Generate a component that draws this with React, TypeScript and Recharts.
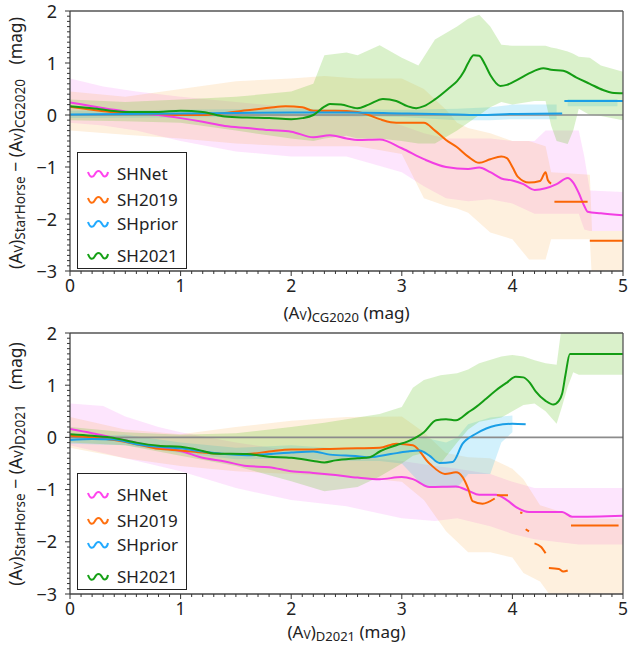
import React from 'react';
import { ComposedChart, Line, Area, XAxis, YAxis, ReferenceLine, Legend } from 'recharts';

type Pt = [number, number | null];
type Bd = [number, number | null, number | null];

const SERIES = ['SHNet', 'SH2019', 'SHprior', 'SH2021'];
const LINE_COLORS = ['#f23ee4', '#fa6605', '#1a9ee6', '#149d14'];
const LEGEND_COLORS = ['#ff44ee', '#ff7010', '#22aaff', '#16a016'];
const BAND_COLORS = ['#f060f0', '#fa9a20', '#30c0f0', '#6cc830'];
const BAND_OPACITY = [0.16, 0.15, 0.22, 0.25];

const X_MAJOR = [0, 1, 2, 3, 4, 5];
const Y_MAJOR = [-3, -2, -1, 0, 1, 2];
const X_TICKS = Array.from({ length: 51 }, (_, i) => i / 10);
const Y_TICKS = Array.from({ length: 51 }, (_, i) => (i - 30) / 10);

// ---------- Top panel: (A_V)_CG2020 ----------
const cgShNet: Pt[] = [
  [0, 0.24], [0.2, 0.17], [0.4, 0.1], [0.6, 0.04], [0.8, 0.0], [1.0, -0.06], [1.2, -0.13], [1.4, -0.21],
  [1.6, -0.25], [1.8, -0.29], [2.0, -0.32], [2.2, -0.43], [2.35, -0.39], [2.5, -0.45], [2.6, -0.48],
  [2.8, -0.47], [3.0, -0.64], [3.2, -0.85], [3.4, -1.0], [3.6, -1.04], [3.7, -1.01], [3.8, -1.1],
  [3.9, -1.22], [4.0, -1.26], [4.1, -1.33], [4.2, -1.44], [4.3, -1.41], [4.4, -1.33], [4.5, -1.21],
  [4.55, -1.3], [4.6, -1.5], [4.65, -1.75], [4.68, -1.86], [4.8, -1.89], [5.0, -1.93],
];
const cgSh2019: Pt[] = [
  [0, 0.16], [0.2, 0.1], [0.4, 0.05], [0.6, 0.03], [0.8, 0.02], [1.0, 0.0], [1.2, 0.0], [1.4, 0.04],
  [1.6, 0.09], [1.8, 0.14], [1.95, 0.17], [2.1, 0.15], [2.2, 0.08], [2.4, 0.08], [2.6, 0.06], [2.7, 0.0],
  [2.8, -0.08], [2.9, -0.14], [3.0, -0.15], [3.2, -0.15], [3.3, -0.3], [3.4, -0.48], [3.5, -0.62],
  [3.6, -0.8], [3.7, -0.92], [3.8, -0.85], [3.9, -0.8], [3.95, -0.83], [4.0, -1.0], [4.05, -1.19],
  [4.15, -1.3], [4.25, -1.27], [4.3, -1.1], [4.32, -1.25], [4.35, -1.32], [4.36, null],
  [4.38, -1.67], [4.68, -1.67], [4.69, null], [4.7, -2.42], [5.0, -2.42],
];
const cgShPrior: Pt[] = [
  [0, 0.01], [0.5, 0.02], [1.0, 0.03], [1.5, 0.04], [2.0, 0.05], [2.5, 0.05], [3.0, 0.03], [3.5, 0.01],
  [3.7, 0.0], [4.0, 0.02], [4.45, 0.03], [4.46, null], [4.47, 0.27], [5.0, 0.27],
];
const cgSh2021: Pt[] = [
  [0, 0.17], [0.2, 0.13], [0.5, 0.06], [0.8, 0.06], [1.0, 0.08], [1.2, 0.06], [1.4, -0.03], [1.6, -0.05],
  [1.8, -0.06], [2.0, -0.08], [2.1, -0.06], [2.2, 0.0], [2.3, 0.16], [2.35, 0.21], [2.45, 0.2],
  [2.6, 0.13], [2.7, 0.2], [2.83, 0.31], [2.95, 0.27], [3.05, 0.17], [3.13, 0.13], [3.2, 0.17],
  [3.3, 0.3], [3.44, 0.54], [3.5, 0.65], [3.56, 0.83], [3.6, 1.0], [3.65, 1.15], [3.7, 1.14],
  [3.75, 0.98], [3.8, 0.77], [3.89, 0.56], [3.95, 0.58], [4.04, 0.67], [4.15, 0.8], [4.28, 0.9],
  [4.35, 0.87], [4.46, 0.85], [4.58, 0.72], [4.7, 0.6], [4.82, 0.48], [4.9, 0.43], [5.0, 0.42],
];
const cgShNetBand: Bd[] = [
  [0, -0.15, 0.7], [0.3, -0.2, 0.55], [0.6, -0.3, 0.45], [1.0, -0.5, 0.35], [1.5, -0.7, 0.25],
  [2.0, -0.8, 0.15], [2.5, -0.8, 0.05], [3.0, -1.1, -0.2], [3.2, -1.37, -0.35], [3.4, -1.6, -0.45],
  [3.6, -1.66, -0.45], [3.8, -1.62, -0.45], [4.0, -1.7, -0.5], [4.2, -1.9, -0.5], [4.3, -1.9, -0.3],
  [4.6, -1.9, -0.3], [4.65, -2.2, -0.8], [4.7, -2.23, -1.45], [5.0, -2.23, -1.48],
];
const cgSh2019Band: Bd[] = [
  [0, -0.3, 0.45], [0.5, -0.38, 0.35], [1.0, -0.45, 0.5], [1.5, -0.55, 0.65], [2.0, -0.6, 0.7],
  [2.3, -0.6, 0.75], [2.6, -0.6, 0.7], [3.0, -0.75, 0.7], [3.2, -1.6, 0.5], [3.4, -1.75, 0.1],
  [3.5, -1.8, -0.15], [3.6, -1.88, -0.25], [3.8, -2.26, -0.35], [4.0, -2.39, -0.5], [4.15, -2.78, -0.5],
  [4.3, -2.78, -0.6], [4.35, -2.39, -1.1], [4.7, -2.39, -1.15], [4.72, -3.2, -2.23], [5.0, -3.2, -2.23],
];
const cgShPriorBand: Bd[] = [
  [0, -0.06, 0.08], [1.0, -0.05, 0.1], [2.0, -0.02, 0.12], [3.0, -0.04, 0.1], [3.5, -0.1, 0.12],
  [3.8, -0.1, 0.15], [4.0, -0.08, 0.2], [4.4, -0.08, 0.2], [4.45, null, null],
  [4.5, 0.17, 0.31], [4.95, 0.17, 0.31],
];
const cgSh2021Band: Bd[] = [
  [0, -0.1, 0.3], [0.5, -0.12, 0.25], [1.0, -0.15, 0.3], [1.5, -0.3, 0.35], [2.0, -0.45, 0.45],
  [2.2, -0.5, 0.6], [2.3, -0.45, 1.15], [2.5, -0.4, 1.2], [2.6, -0.45, 1.15], [2.8, -0.45, 1.34],
  [3.0, -0.5, 1.1], [3.15, -0.55, 0.95], [3.3, -0.55, 1.45], [3.5, -0.3, 1.7], [3.6, -0.15, 1.85],
  [3.7, 0.0, 1.93], [3.8, 0.15, 1.7], [3.9, 0.25, 1.35], [4.0, 0.2, 1.33], [4.2, 0.27, 1.33],
  [4.3, 0.27, 1.33], [4.35, -0.2, 1.3], [4.4, -0.5, 1.28], [4.5, -0.56, 1.22], [4.55, -0.3, 1.18],
  [4.6, 0.12, 1.12], [4.7, 0.0, 1.1], [4.8, -0.02, 0.95], [5.0, -0.1, 0.83],
];

// ---------- Bottom panel: (A_V)_D2021 ----------
const dShNet: Pt[] = [
  [0, 0.16], [0.2, 0.08], [0.4, -0.01], [0.6, -0.1], [0.8, -0.19], [1.0, -0.26], [1.2, -0.39],
  [1.4, -0.46], [1.6, -0.55], [1.8, -0.57], [2.0, -0.65], [2.2, -0.68], [2.4, -0.72], [2.6, -0.77],
  [2.8, -0.8], [3.0, -0.76], [3.1, -0.8], [3.25, -0.95], [3.49, -0.94], [3.6, -1.02], [3.7, -1.1],
  [3.85, -1.1], [3.95, -1.2], [4.03, -1.33], [4.15, -1.43], [4.45, -1.43], [4.54, -1.52], [5.0, -1.5],
];
const dSh2019: Pt[] = [
  [0, 0.03], [0.2, 0.0], [0.4, -0.05], [0.6, -0.13], [0.8, -0.22], [1.0, -0.25], [1.2, -0.29],
  [1.4, -0.32], [1.6, -0.32], [1.8, -0.27], [2.0, -0.23], [2.2, -0.23], [2.35, -0.22], [2.6, -0.21],
  [2.8, -0.2], [2.95, -0.12], [3.1, -0.15], [3.25, -0.5], [3.39, -0.7], [3.49, -0.67], [3.55, -0.76],
  [3.6, -0.98], [3.64, -1.22], [3.73, -1.27], [3.84, -1.17], [3.85, null], [3.86, -1.11], [3.96, -1.11],
  [3.97, null], [4.07, -1.44], [4.09, -1.45], [4.1, null], [4.12, -1.76], [4.15, -1.8], [4.16, null],
  [4.2, -2.03], [4.26, -2.1], [4.3, -2.22], [4.31, null], [4.33, -2.5], [4.42, -2.52], [4.46, -2.57],
  [4.5, -2.55], [4.51, null], [4.53, -1.69], [4.96, -1.69],
];
const dShPrior: Pt[] = [
  [0, -0.05], [0.2, -0.03], [0.4, -0.04], [0.6, -0.13], [0.8, -0.18], [1.0, -0.21], [1.2, -0.27],
  [1.4, -0.32], [1.6, -0.34], [1.8, -0.32], [2.0, -0.29], [2.2, -0.27], [2.35, -0.33], [2.6, -0.36],
  [2.71, -0.38], [2.9, -0.32], [3.05, -0.27], [3.16, -0.25], [3.25, -0.35], [3.34, -0.49],
  [3.46, -0.47], [3.55, -0.12], [3.67, 0.07], [3.85, 0.23], [4.0, 0.26], [4.12, 0.25],
];
const dSh2021: Pt[] = [
  [0, 0.06], [0.2, 0.03], [0.4, -0.01], [0.6, -0.1], [0.8, -0.16], [1.0, -0.18], [1.2, -0.26],
  [1.3, -0.31], [1.6, -0.32], [1.8, -0.37], [2.0, -0.39], [2.2, -0.45], [2.3, -0.48], [2.4, -0.44],
  [2.6, -0.4], [2.71, -0.38], [2.8, -0.27], [2.95, -0.15], [3.05, -0.08], [3.13, 0.0], [3.2, 0.1],
  [3.31, 0.33], [3.4, 0.35], [3.49, 0.33], [3.6, 0.48], [3.67, 0.58], [3.75, 0.72], [3.85, 0.9],
  [3.95, 1.05], [4.03, 1.16], [4.1, 1.15], [4.16, 1.04], [4.21, 0.88], [4.3, 0.7], [4.37, 0.63],
  [4.42, 0.7], [4.45, 0.84], [4.48, 1.2], [4.52, 1.6], [5.0, 1.6],
];
const dShNetBand: Bd[] = [
  [0, -0.15, 0.65], [0.3, -0.3, 0.6], [0.5, -0.4, 0.4], [0.8, -0.55, 0.2], [1.0, -0.65, 0.1],
  [1.5, -0.97, -0.1], [2.0, -1.2, -0.25], [2.5, -1.32, -0.35], [3.0, -1.55, -0.45], [3.3, -1.6, -0.55],
  [3.5, -1.55, -0.6], [3.8, -1.7, -0.7], [4.0, -1.85, -0.85], [4.2, -1.95, -0.97], [4.6, -2.05, -0.97],
  [5.0, -2.05, -0.97],
];
const dSh2019Band: Bd[] = [
  [0, -0.2, 0.39], [0.5, -0.4, 0.15], [1.0, -0.55, 0.06], [1.5, -0.65, 0.2], [2.0, -0.7, 0.32],
  [2.5, -0.75, 0.39], [3.0, -0.85, 0.4], [3.2, -1.2, 0.1], [3.4, -1.8, -0.3], [3.6, -2.2, -0.38],
  [3.8, -2.2, -0.4], [4.0, -2.3, -0.6], [4.1, -2.6, -0.8], [4.25, -2.76, -1.3], [4.4, -3.2, -1.4],
  [4.5, -3.2, -1.45], [4.55, -3.2, -1.56], [5.0, -3.2, -1.56],
];
const dShPriorBand: Bd[] = [
  [0, -0.12, 0.02], [0.5, -0.15, 0.05], [1.0, -0.3, -0.1], [1.5, -0.42, -0.2], [2.0, -0.4, -0.15],
  [2.5, -0.45, -0.22], [2.8, -0.45, -0.2], [3.0, -0.5, -0.1], [3.2, -0.95, 0.0], [3.4, -0.97, -0.1],
  [3.5, -0.97, 0.0], [3.6, -0.7, 0.25], [3.8, -0.7, 0.38], [3.9, -0.1, 0.4], [4.0, 0.1, 0.42],
];
const dSh2021Band: Bd[] = [
  [0, -0.1, 0.2], [0.5, -0.15, 0.1], [1.0, -0.35, 0.05], [1.5, -0.55, 0.08], [2.0, -0.84, 0.2],
  [2.3, -1.03, 0.28], [2.6, -0.95, 0.38], [2.8, -0.75, 0.45], [3.0, -0.5, 0.58], [3.1, -0.35, 0.95],
  [3.2, -0.3, 1.1], [3.35, -0.5, 1.19], [3.5, -0.1, 1.23], [3.6, 0.15, 1.3], [3.7, 0.3, 1.42],
  [3.9, 0.38, 1.55], [4.0, 0.5, 1.58], [4.1, 0.62, 1.55], [4.2, 0.65, 1.48], [4.3, 0.5, 1.42],
  [4.4, 0.26, 1.39], [4.45, 0.6, 2.2], [4.5, 0.97, 2.2], [4.55, 1.25, 2.2], [4.6, 1.2, 2.2],
  [5.0, 1.2, 2.2],
];

const FONT = "'Noto Sans', 'DejaVu Sans', sans-serif";

const toLine = (pts: Pt[]) => pts.map(([x, y]) => ({ x, y }));
const toBand = (pts: Bd[]) =>
  pts.map(([x, lo, hi]) => ({ x, r: lo == null || hi == null ? null : [lo, hi] }));

const isMajor = (v: number) => Math.abs(v - Math.round(v)) < 1e-9;
const fmt = (v: number) => (v < 0 ? '\u2212' + Math.abs(Math.round(v)) : String(Math.round(v)));

const XTick = (props: any) => {
  const { x, y, payload } = props;
  const v = payload.value as number;
  const major = isMajor(v);
  return (
    <g>
      <line x1={x} x2={x} y1={y} y2={y + (major ? 5 : 3)} stroke="#333" strokeWidth={1} />
      {major && (
        <text x={x} y={y + 21} textAnchor="middle" fontSize={17.5} fill="#222" fontFamily={FONT}>
          {fmt(v)}
        </text>
      )}
    </g>
  );
};

const YTick = (props: any) => {
  const { x, y, payload } = props;
  const v = payload.value as number;
  const major = isMajor(v);
  return (
    <g>
      <line x1={x} x2={x - (major ? 5 : 3)} y1={y} y2={y} stroke="#333" strokeWidth={1} />
      {major && (
        <text x={x - 13} y={y + 6.5} textAnchor="end" fontSize={18} fill="#222" fontFamily={FONT}>
          {fmt(v)}
        </text>
      )}
    </g>
  );
};

const LEGEND_ROW_Y = [21, 47, 71, 103];

const LegendBox = () => (
  <div
    style={{
      width: 110,
      height: 117,
      border: '1px solid #222',
      background: '#fff',
      boxSizing: 'border-box',
      position: 'relative',
      fontFamily: FONT,
    }}
  >
    {SERIES.map((name, i) => (
      <div
        key={name}
        style={{
          position: 'absolute',
          left: 9,
          top: LEGEND_ROW_Y[i] - 12,
          height: 24,
          display: 'flex',
          alignItems: 'center',
          whiteSpace: 'nowrap',
        }}
      >
        <svg width={22} height={10} style={{ display: 'block' }}>
          <path
            d="M1,3 C3,9 6,9 8,5 C10,1 13,1 15,5 C17,9 20,8 21,3"
            fill="none"
            stroke={LEGEND_COLORS[i]}
            strokeWidth={2}
          />
        </svg>
        <span style={{ marginLeft: 8, fontSize: 17, color: '#222', lineHeight: '24px' }}>{name}</span>
      </div>
    ))}
  </div>
);

type PanelProps = {
  lines: Pt[][];
  bands: Bd[][];
  height: number;
  margin: { top: number; right: number; left: number; bottom: number };
  legendTop: number;
};

function Panel({ lines, bands, height, margin, legendTop }: PanelProps) {
  return (
    <ComposedChart width={629} height={height} margin={margin}>
      <XAxis
        type="number"
        dataKey="x"
        domain={[0, 5]}
        ticks={X_TICKS}
        interval={0}
        allowDataOverflow
        tick={XTick}
        tickLine={false}
        tickSize={0}
        tickMargin={0}
        height={30}
        axisLine={{ stroke: '#444', strokeWidth: 1.3 }}
      />
      <YAxis
        type="number"
        domain={[-3, 2]}
        ticks={Y_TICKS}
        interval={0}
        allowDataOverflow
        tick={YTick}
        tickLine={false}
        tickSize={0}
        tickMargin={0}
        width={70}
        axisLine={{ stroke: '#444', strokeWidth: 1.3 }}
      />
      {bands.map((b, i) => (
        <Area
          key={'band' + i}
          data={toBand(b)}
          dataKey="r"
          type="linear"
          stroke="none"
          fill={BAND_COLORS[i]}
          fillOpacity={BAND_OPACITY[i]}
          isAnimationActive={false}
          connectNulls={false}
          activeDot={false}
        />
      ))}
      <ReferenceLine y={0} stroke="#8c8c8c" strokeWidth={1.6} />
      {lines.map((l, i) => (
        <Line
          key={'line' + i}
          data={toLine(l)}
          dataKey="y"
          name={SERIES[i]}
          type="monotone"
          stroke={LINE_COLORS[i]}
          strokeWidth={2}
          dot={false}
          activeDot={false}
          connectNulls={false}
          isAnimationActive={false}
        />
      ))}
      <ReferenceLine y={2} stroke="#555" strokeWidth={1.3} />
      <ReferenceLine x={5} stroke="#555" strokeWidth={1.3} />
      <Legend
        content={() => <LegendBox />}
        layout="vertical"
        align="center"
        verticalAlign="middle"
        wrapperStyle={{ left: 77, top: legendTop, width: 110, height: 117 }}
      />
    </ComposedChart>
  );
}

const MAIN = 17;
const SUB = 13;
const VSZ = 12;

const AvXLabel = ({ x, y, sub }: { x: number; y: number; sub: string }) => (
  <text x={x} y={y} textAnchor="middle" fontSize={MAIN} fill="#222" fontFamily={FONT}>
    {'(A'}
    <tspan fontSize={VSZ} dy={1}>V</tspan>
    <tspan dy={-1}>{')'}</tspan>
    <tspan fontSize={SUB} dy={2.5}>{sub}</tspan>
    <tspan dy={-2.5}>{' (mag)'}</tspan>
  </text>
);

const AvYLabel = ({ cx, cy, sub }: { cx: number; cy: number; sub: string }) => (
  <text
    transform="rotate(-90)"
    x={-cy}
    y={cx}
    textAnchor="middle"
    fontSize={17.5}
    fill="#222"
    fontFamily={FONT}
  >
    {'(A'}
    <tspan fontSize={12.5} dy={1}>V</tspan>
    <tspan dy={-1}>{')'}</tspan>
    <tspan fontSize={13.5} dy={3}>StarHorse</tspan>
    <tspan dy={-3}>{' \u2212 (A'}</tspan>
    <tspan fontSize={12.5} dy={1}>V</tspan>
    <tspan dy={-1}>{')'}</tspan>
    <tspan fontSize={13.5} dy={3}>{sub}</tspan>
    <tspan dy={-3} dx={10}>{' (mag)'}</tspan>
  </text>
);

export default function App() {
  return (
    <div style={{ position: 'absolute', left: 0, top: 0, width: 629, height: 645, background: '#fff' }}>
      <div style={{ position: 'absolute', left: 0, top: 0 }}>
        <Panel
          lines={[cgShNet, cgSh2019, cgShPrior, cgSh2021]}
          bands={[cgShNetBand, cgSh2019Band, cgShPriorBand, cgSh2021Band]}
          height={320}
          margin={{ top: 11, right: 6, left: 0, bottom: 19 }}
          legendTop={152}
        />
      </div>
      <div style={{ position: 'absolute', left: 0, top: 320 }}>
        <Panel
          lines={[dShNet, dSh2019, dShPrior, dSh2021]}
          bands={[dShNetBand, dSh2019Band, dShPriorBand, dSh2021Band]}
          height={325}
          margin={{ top: 13, right: 6, left: 0, bottom: 21 }}
          legendTop={153}
        />
      </div>
      <svg
        width={629}
        height={645}
        style={{ position: 'absolute', left: 0, top: 0, pointerEvents: 'none' }}
      >
        <AvXLabel x={346.5} y={319} sub="CG2020" />
        <AvXLabel x={346.5} y={638} sub="D2021" />
        <AvYLabel cx={22} cy={143} sub="CG2020" />
        <AvYLabel cx={22} cy={464} sub="D2021" />
      </svg>
    </div>
  );
}
